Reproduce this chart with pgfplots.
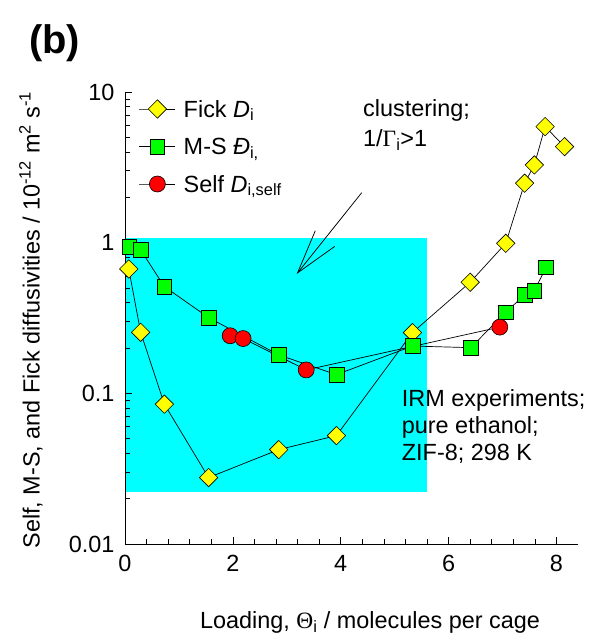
\documentclass[border=0pt]{standalone}
\usepackage{pgfplots}
\pgfplotsset{compat=1.18}
\usepackage{fontspec}
\setmainfont{Liberation Sans}
\newfontfamily\symf{Liberation Serif}
\usetikzlibrary{arrows.meta}
\definecolor{cyanbg}{RGB}{0,255,255}
\definecolor{ylw}{RGB}{255,255,0}
\definecolor{grn}{RGB}{0,255,0}
\definecolor{rd}{RGB}{255,0,0}
\newcommand{\fs}{\fontsize{23.5}{27}\selectfont}
\begin{document}
\begin{tikzpicture}[x=1bp,y=1bp]
\begin{axis}[
  set layers,
  at={(125bp,96bp)}, anchor=south west,
  width=453bp, height=452bp, scale only axis,
  xmin=0, xmax=8.4, ymode=log, ymin=0.01, ymax=10,
  axis x line*=bottom, axis y line*=left,
  axis line style={-, black, line width=0.8bp},
  xtick={0,2,4,6,8}, xticklabels={0,2,4,6,8}, minor x tick num=4,
  ytick={0.01,0.1,1,10}, yticklabels={0.01,0.1,1,10},
  tick align=inside, major tick length=7bp, minor tick length=5bp,
  tick style={black, line width=0.6bp},
  ticklabel style={font=\fs},
  xticklabel style={yshift=-8bp},
  yticklabel style={xshift=-7bp},
  legend style={at={(0.031,0.9845)}, anchor=north west, draw=none, fill=none,
    inner sep=0pt, outer sep=0pt, font=\fs,
    nodes={inner ysep=1bp, inner xsep=8bp, text height=17bp, text depth=18.5bp, anchor=base west}},
  legend cell align=left,
  legend image code/.code={\draw[mark repeat=2,mark phase=2,yshift=8bp] plot coordinates {(0bp,0bp) (18bp,0bp) (36bp,0bp)};},
]
\addplot[fill=cyanbg, draw=none, on layer=axis background, forget plot]
  coordinates {(0,0.0221) (5.6,0.0221) (5.6,1.075) (0,1.075)} -- cycle;
\addplot[black, line width=0.7bp, mark=square*, mark size=6.5bp,
  mark options={rotate=45, fill=ylw, draw=black, line width=0.6bp, solid}]
  coordinates {(0.07,0.669) (0.29,0.254) (0.73,0.0847) (1.55,0.0276) (2.85,0.0423)
  (3.92,0.0524) (5.33,0.253) (6.40,0.546) (7.06,0.99) (7.41,2.48) (7.59,3.28)
  (7.79,5.89) (8.15,4.34)};
\addlegendentry{Fick \textit{D}\textsubscript{i}}
\addplot[black, line width=0.7bp, mark=square*, mark size=7.4bp,
  mark options={fill=grn, draw=black, line width=0.6bp, solid}]
  coordinates {(0.08,0.94) (0.29,0.895) (0.73,0.511) (1.55,0.318) (2.85,0.180)
  (3.92,0.133) (5.33,0.206) (6.41,0.201) (7.06,0.345) (7.41,0.450) (7.59,0.480)
  (7.81,0.687)};
\addlegendentry{M-S \textit{Đ}\textsubscript{i,}}
\addplot[black, line width=0.7bp, mark=*, mark size=8bp,
  mark options={fill=rd, draw=black, line width=0.6bp, solid}]
  coordinates {(1.95,0.241) (2.19,0.231) (3.36,0.143) (6.95,0.275)};
\addlegendentry{Self \textit{D}\textsubscript{i,self}}
\end{axis}
% labels
\node[rotate=90, font=\fs] at (31,320) {Self, M-S, and Fick diffusivities / 10\textsuperscript{-12} m\textsuperscript{2} s\textsuperscript{-1}};
\node[anchor=base, font=\fs] at (370,11) {Loading, {\symf Θ}\textsubscript{i} / molecules per cage};
\node[anchor=base west, font=\fs, inner sep=0pt] at (144,645) {Loading, {\symf Θ}\textsubscript{i} / molecules per cage};
\node[anchor=base west, font=\bfseries\fontsize{40}{40}\selectfont, inner sep=0pt] at (29,586) {(b)};
% annotations
\node[anchor=base west, align=left, font=\fontsize{23.5}{31}\selectfont, inner sep=0pt] at (363,493) {clustering;\\1/{\symf Γ}\textsubscript{i}>1};
\draw[line width=0.75bp, -{Straight Barb[length=44bp,width=25bp]}] (361.7,447.3) -- (296.7,366);
\node[anchor=base west, align=left, font=\fs, inner sep=0pt] at (401.7,179.5) {IRM experiments;\\pure ethanol;\\ZIF-8; 298 K};
\pgfresetboundingbox
\useasboundingbox (0,0) rectangle (593,640);
\end{tikzpicture}
\end{document}
